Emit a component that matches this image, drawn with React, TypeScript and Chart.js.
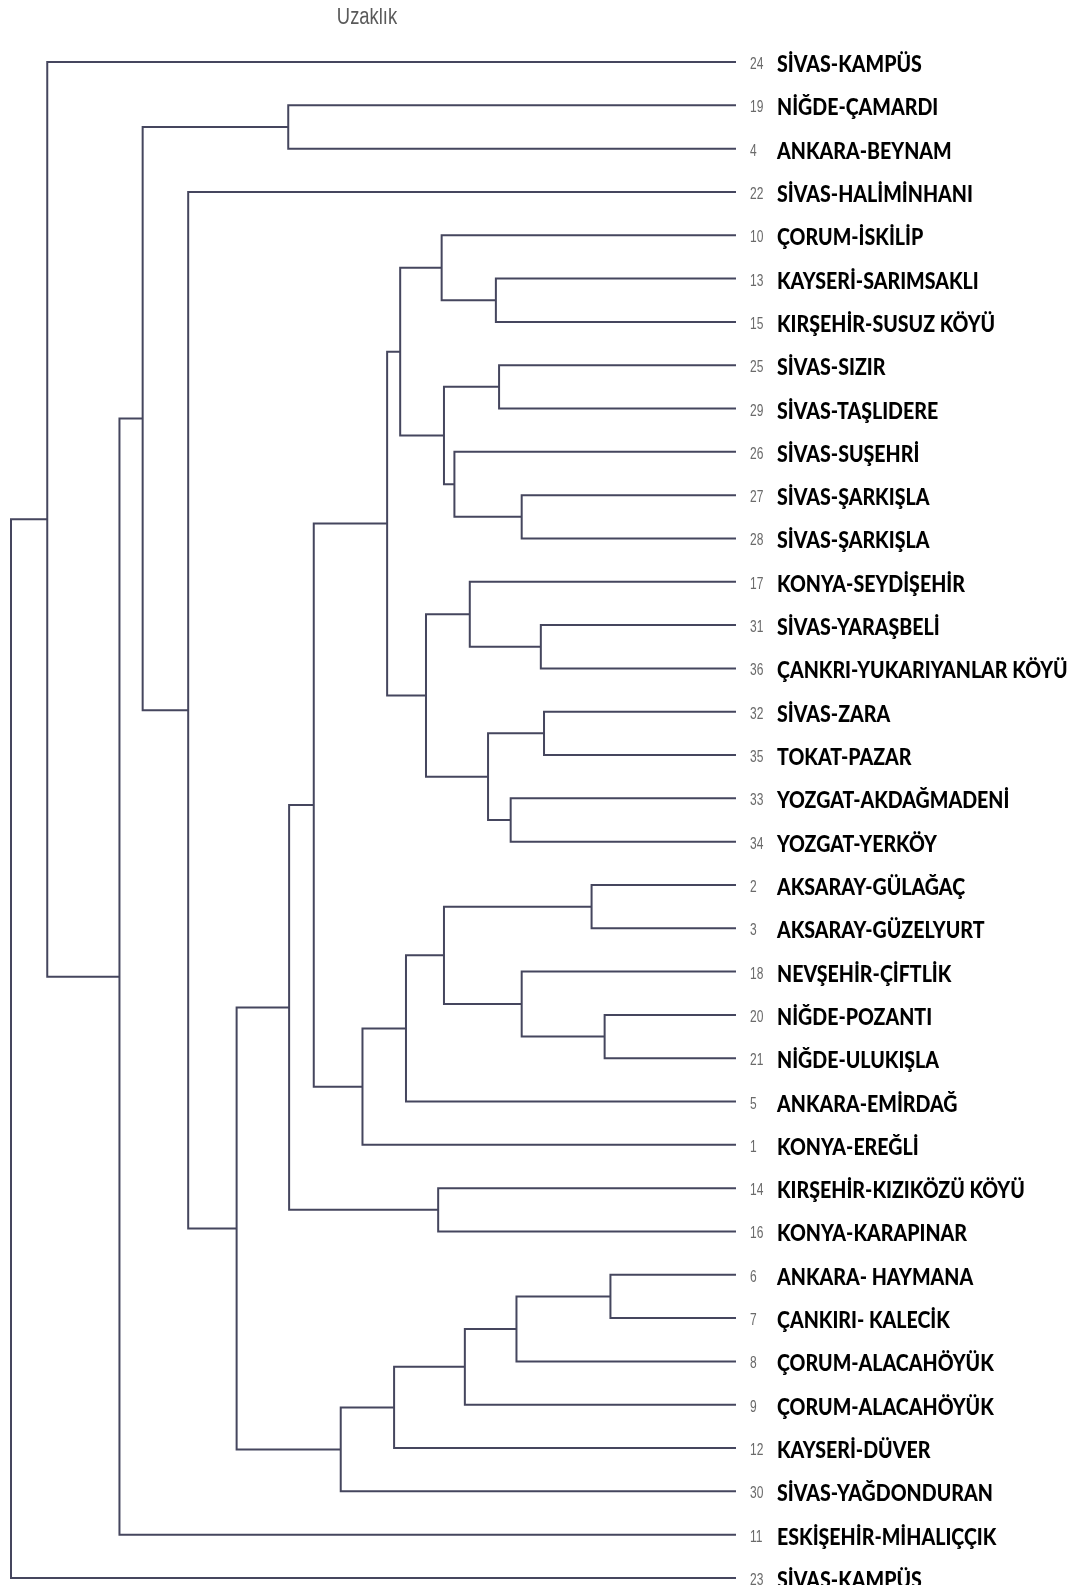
import React, { useEffect, useRef } from "react";
import { Chart, registerables } from "chart.js";

Chart.register(...registerables);

// Cases in the order they are listed down the tree
const caseNumbers = [
  24, 19, 4, 22, 10, 13, 15, 25, 29, 26, 27, 28, 17, 31, 36, 32, 35, 33,
  34, 2, 3, 18, 20, 21, 5, 1, 14, 16, 6, 7, 8, 9, 12, 30, 11, 23,
];

const caseNames = [
  "SİVAS-KAMPÜS",
  "NİĞDE-ÇAMARDI",
  "ANKARA-BEYNAM",
  "SİVAS-HALİMİNHANI",
  "ÇORUM-İSKİLİP",
  "KAYSERİ-SARIMSAKLI",
  "KIRŞEHİR-SUSUZ KÖYÜ",
  "SİVAS-SIZIR",
  "SİVAS-TAŞLIDERE",
  "SİVAS-SUŞEHRİ",
  "SİVAS-ŞARKIŞLA",
  "SİVAS-ŞARKIŞLA",
  "KONYA-SEYDİŞEHİR",
  "SİVAS-YARAŞBELİ",
  "ÇANKRI-YUKARIYANLAR KÖYÜ",
  "SİVAS-ZARA",
  "TOKAT-PAZAR",
  "YOZGAT-AKDAĞMADENİ",
  "YOZGAT-YERKÖY",
  "AKSARAY-GÜLAĞAÇ",
  "AKSARAY-GÜZELYURT",
  "NEVŞEHİR-ÇİFTLİK",
  "NİĞDE-POZANTI",
  "NİĞDE-ULUKIŞLA",
  "ANKARA-EMİRDAĞ",
  "KONYA-EREĞLİ",
  "KIRŞEHİR-KIZIKÖZÜ KÖYÜ",
  "KONYA-KARAPINAR",
  "ANKARA- HAYMANA",
  "ÇANKIRI- KALECİK",
  "ÇORUM-ALACAHÖYÜK",
  "ÇORUM-ALACAHÖYÜK",
  "KAYSERİ-DÜVER",
  "SİVAS-YAĞDONDURAN",
  "ESKİŞEHİR-MİHALIÇÇIK",
  "SİVAS-KAMPÜS",
];

// Agglomeration steps. A member below 36 is a row of the list above;
// 36 + k is the cluster formed at step k.
const joinLeft = [
  28, 22, 19, 15, 13, 10, 21, 36, 17, 7, 5, 39, 12, 43, 9, 45, 38, 4,
  26, 48, 52, 53, 49, 57, 56, 58, 59, 62, 1, 63, 3, 64, 67, 0, 69,
];
const joinRight = [
  29, 23, 20, 16, 14, 11, 37, 30, 18, 8, 6, 44, 40, 31, 41, 50, 42, 46,
  27, 47, 24, 51, 32, 55, 25, 33, 60, 54, 2, 61, 65, 66, 34, 68, 35,
];
// Rescaled distance (0-25) at which each step joins
const joinDistance = [
  4.33, 4.53, 4.98, 6.62, 6.73, 7.39, 7.39, 7.57, 7.77, 8.17, 8.28, 8.55,
  9.18, 9.35, 9.71, 10.07, 10.07, 10.15, 10.27, 10.69, 11.38, 11.58, 11.79,
  12.03, 12.88, 13.63, 14.56, 15.41, 15.44, 17.22, 18.89, 20.46, 21.26,
  23.75, 25.0,
];

const axisTitle = "Uzaklık";

const LINK_COLOR = "#45465e";

function buildLinks() {
  const nodeY: number[] = caseNumbers.map((_, i) => i);
  const nodeH: number[] = caseNumbers.map(() => 0);
  return joinDistance.map((d, k) => {
    const a = joinLeft[k];
    const b = joinRight[k];
    const ya = nodeY[a];
    const yb = nodeY[b];
    nodeY.push((ya + yb) / 2);
    nodeH.push(d);
    return {
      data: [
        { x: nodeH[a], y: ya },
        { x: d, y: ya },
        { x: d, y: yb },
        { x: nodeH[b], y: yb },
      ],
      showLine: true,
      pointRadius: 0,
      borderColor: LINK_COLOR,
      borderWidth: 2,
      fill: false,
      tension: 0,
      clip: false as const,
    };
  });
}

const caseLabels = {
  id: "caseLabels",
  afterDatasetsDraw(chart: any) {
    const { ctx, chartArea, scales } = chart;
    const right = chartArea.right;
    ctx.save();
    caseNumbers.forEach((num, i) => {
      const y = scales.y.getPixelForValue(i);
      // case number, small grey condensed
      ctx.save();
      ctx.translate(right + 14, y + 7);
      ctx.scale(0.75, 1);
      ctx.font = '16px "Liberation Sans", Arial, sans-serif';
      ctx.fillStyle = "#6a6a6a";
      ctx.textAlign = "left";
      ctx.textBaseline = "alphabetic";
      ctx.fillText(String(num), 0, 0);
      ctx.restore();
      // case name, heavy and slightly condensed
      ctx.save();
      ctx.translate(right + 41, y + 10);
      ctx.scale(0.89, 1);
      ctx.font = '900 22px Lato, "Noto Sans", sans-serif';
      ctx.fillStyle = "#000000";
      ctx.textAlign = "left";
      ctx.textBaseline = "alphabetic";
      ctx.fillText(caseNames[i], 0, 0);
      ctx.restore();
    });
    // distance heading
    ctx.save();
    ctx.translate(359, 16);
    ctx.scale(0.8, 1);
    ctx.font = '23px "Liberation Sans", Arial, sans-serif';
    ctx.fillStyle = "#5a5a5a";
    ctx.textAlign = "center";
    ctx.textBaseline = "alphabetic";
    ctx.fillText(axisTitle, 0, 0);
    ctx.restore();
    ctx.restore();
  },
};

export default function App() {
  const canvasRef = useRef<HTMLCanvasElement | null>(null);

  useEffect(() => {
    const canvas = canvasRef.current;
    if (!canvas) return;
    const chart = new Chart(canvas, {
      type: "scatter",
      data: { datasets: buildLinks() as any },
      options: {
        animation: false,
        responsive: false,
        maintainAspectRatio: false,
        events: [],
        layout: { padding: { left: 3, right: 342, top: 54, bottom: 15 } },
        plugins: {
          legend: { display: false },
          tooltip: { enabled: false },
          title: { display: false },
        },
        scales: {
          x: { type: "linear", min: 0, max: 25, reverse: true, display: false },
          y: { type: "linear", min: 0, max: 35, reverse: true, display: false },
        },
      },
      plugins: [caseLabels],
    });
    return () => chart.destroy();
  }, []);

  return (
    <div style={{ width: 1062, height: 1577, background: "#ffffff" }}>
      <canvas
        ref={canvasRef}
        width={1070}
        height={1585}
        style={{ display: "block", width: 1070, height: 1585 }}
      />
    </div>
  );
}
